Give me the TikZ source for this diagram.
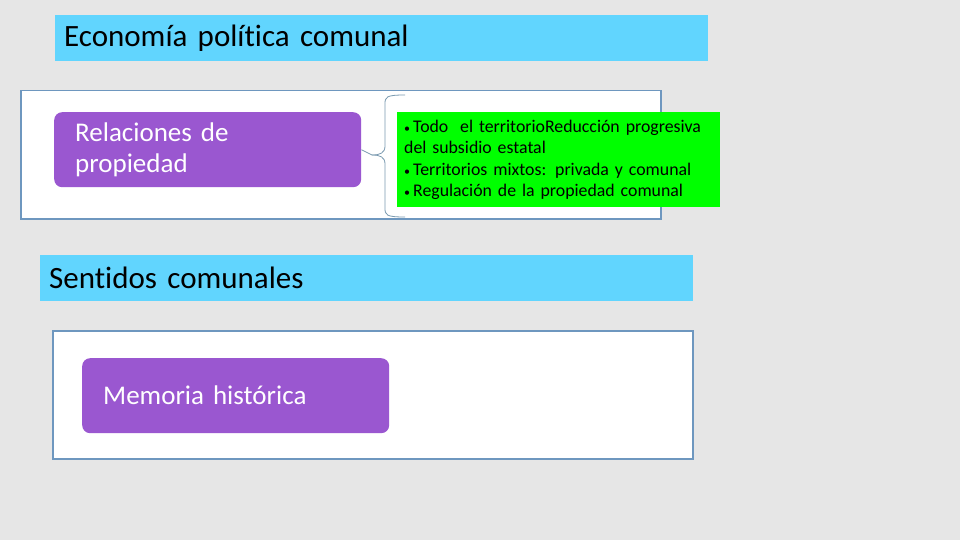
\documentclass[tikz,border=0pt]{standalone}
\usepackage{fontspec}
\setmainfont[Ligatures=NoCommon]{Carlito}
\definecolor{bg}{HTML}{E6E6E6}
\definecolor{titleblue}{HTML}{61D5FE}
\definecolor{frameblue}{HTML}{6E97BF}
\definecolor{purp}{HTML}{9A57D0}
\definecolor{grn}{HTML}{00FF00}
\definecolor{bracec}{HTML}{7A9AB0}
\tikzset{
  titlebox/.style={fill=titleblue, draw=none, anchor=north west, minimum width=653pt, minimum height=46pt, inner xsep=9pt, inner ysep=0pt, text width=635pt, align=left, font=\fontsize{31}{36}\selectfont},
  framebox/.style={fill=white, draw=frameblue, line width=1.5pt, anchor=north west, minimum width=640pt, minimum height=128pt, inner sep=0pt},
  purpbox/.style={fill=purp, draw=none, rounded corners=8pt, anchor=north west, minimum width=307pt, minimum height=75pt, inner xsep=21pt, inner ysep=0pt, text width=265pt, align=left, text=white, font=\fontsize{27}{31}\selectfont},
  greenbox/.style={fill=grn, draw=none, anchor=north west, minimum width=323pt, minimum height=95pt, inner xsep=7pt, inner ysep=0pt, text width=309pt, align=left, font=\fontsize{17.8}{21.5}\selectfont},
  bracestyle/.style={draw=bracec, line width=0.8pt}
}
\newcommand{\bul}{{\fontsize{12}{12}\selectfont•}\,}
\begin{document}
\begin{tikzpicture}[x=1pt,y=-1pt]
\fill[bg] (0,0) rectangle (960,540);
\useasboundingbox (0,0) rectangle (960,540);
\node[titlebox] (t1) at (55,15) {Economía política comunal};
\node[framebox] (f1) at (20,90) {};
\node[purpbox] (p1) at (54,112) {Relaciones de\\propiedad};
\coordinate (tip) at (372,155);
\coordinate (btop) at (405,95);
\coordinate (bbot) at (405,217);
\draw[bracestyle] (p1.east) -- (tip);
\draw[bracestyle] (btop) .. controls (386,95) and (385,97) .. (385,104) -- (385,146) .. controls (385,153) and (380,155) .. (tip);
\draw[bracestyle] (bbot) .. controls (386,217) and (385,215) .. (385,208) -- (385,164) .. controls (385,157) and (380,155) .. (tip);
\node[greenbox] (g1) at (397,112) {\bul Todo\ \ el territorioReducción progresiva\\del subsidio estatal\\\bul Territorios mixtos: privada y comunal\\\bul Regulación de la propiedad comunal};
\node[titlebox] (t2) at (40,255) {Sentidos comunales};
\node[framebox] (f2) at (52,330) {};
\node[purpbox] (p2) at (82,358) {Memoria histórica};
\end{tikzpicture}
\end{document}
